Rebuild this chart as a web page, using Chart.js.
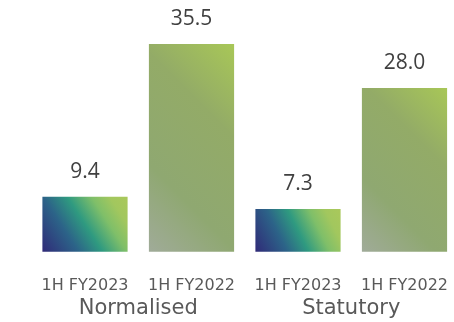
<!DOCTYPE html>
<html>
<head>
<meta charset="utf-8">
<script src="https://cdn.jsdelivr.net/npm/chart.js@4/dist/chart.umd.min.js"></script>
<style>
  html, body { margin: 0; padding: 0; background: #ffffff; }
  #wrap { width: 454px; height: 322px; position: relative; }
</style>
</head>
<body>
<div id="wrap"><canvas id="chart"></canvas></div>
<script>
// Half-year results, two measures side by side
const periods = ['1H FY2023', '1H FY2022', '1H FY2023', '1H FY2022'];
const groups = ['Normalised', 'Statutory'];
const values = [9.4, 35.5, 7.3, 28.0];

// Gradient stops per period, running from the bottom-left corner to the top-right corner
const gradientStops = {
  '1H FY2023': [[0, '#302a78'], [0.3, '#2c6388'], [0.5, '#2f9a80'], [0.7, '#7fbf69'], [0.85, '#a2c75e'], [1, '#aac85b']],
  '1H FY2022': [[0, '#a0ab99'], [0.3, '#8fa871'], [0.68, '#93ab67'], [1, '#a8c757']]
};
// 'corner': axis along the bar's own diagonal; 'diag45': fixed 45° axis
const gradientMode = { '1H FY2023': 'corner', '1H FY2022': 'diag45' };

const BAR_FRACTION = 0.8;

function barFill(ctx) {
  const chart = ctx.chart;
  const i = ctx.dataIndex;
  const stops = gradientStops[periods[i]];
  if (ctx.type !== 'data' || !chart.chartArea) return stops[1][1];
  const xs = chart.scales.x, ys = chart.scales.y;
  const cx = xs.getPixelForValue(i);
  const half = (xs.getPixelForValue(1) - xs.getPixelForValue(0)) * BAR_FRACTION / 2;
  const left = cx - half, right = cx + half;
  const top = ys.getPixelForValue(values[i]);
  const bottom = ys.getPixelForValue(0);
  let g;
  if (gradientMode[periods[i]] === 'diag45') {
    const s = ((right - left) + (bottom - top)) / 2;
    g = chart.ctx.createLinearGradient(left, bottom, left + s, bottom - s);
  } else {
    g = chart.ctx.createLinearGradient(left, bottom, right, top);
  }
  stops.forEach(([o, c]) => g.addColorStop(o, c));
  return g;
}

// Value labels above each bar, group captions under each pair
const annotations = {
  id: 'annotations',
  afterDatasetsDraw(chart) {
    const c = chart.ctx;
    const meta = chart.getDatasetMeta(0);
    const xs = chart.scales.x;
    c.save();
    c.font = '21px "Open Sans"';
    c.fillStyle = '#404040';
    c.textAlign = 'center';
    c.textBaseline = 'middle';
    meta.data.forEach((bar, i) => {
      c.fillText(values[i].toFixed(1), bar.x, bar.y - 25);
    });
    c.font = '21px "DejaVu Sans"';
    c.fillStyle = '#595959';
    groups.forEach((name, g) => {
      const mid = (xs.getPixelForValue(2 * g) + xs.getPixelForValue(2 * g + 1)) / 2;
      c.fillText(name, mid, xs.bottom + 12);
    });
    c.restore();
  }
};

new Chart(document.getElementById('chart'), {
  type: 'bar',
  data: {
    labels: periods,
    datasets: [{
      data: values,
      backgroundColor: barFill,
      borderWidth: 0,
      barPercentage: BAR_FRACTION,
      categoryPercentage: 1,
      clip: false
    }]
  },
  options: {
    responsive: true,
    maintainAspectRatio: false,
    animation: false,
    layout: { padding: { left: 85, right: 49.5, top: 17.7, bottom: 25.3 } },
    plugins: { legend: { display: false }, tooltip: { enabled: false } },
    scales: {
      y: { display: false, min: 0, max: 40 },
      x: {
        offset: false,
        grid: { display: false, drawTicks: false },
        border: { display: false },
        ticks: {
          padding: 25,
          color: '#595959',
          font: { family: '"DejaVu Sans"', size: 16 },
          maxRotation: 0,
          autoSkip: false
        },
        // keep the label band a fixed height and let the layout padding set the sides
        afterFit(scale) {
          scale.paddingLeft = 0;
          scale.paddingRight = 0;
          scale.height = 45;
        }
      }
    }
  },
  plugins: [annotations]
});
</script>
</body>
</html>
